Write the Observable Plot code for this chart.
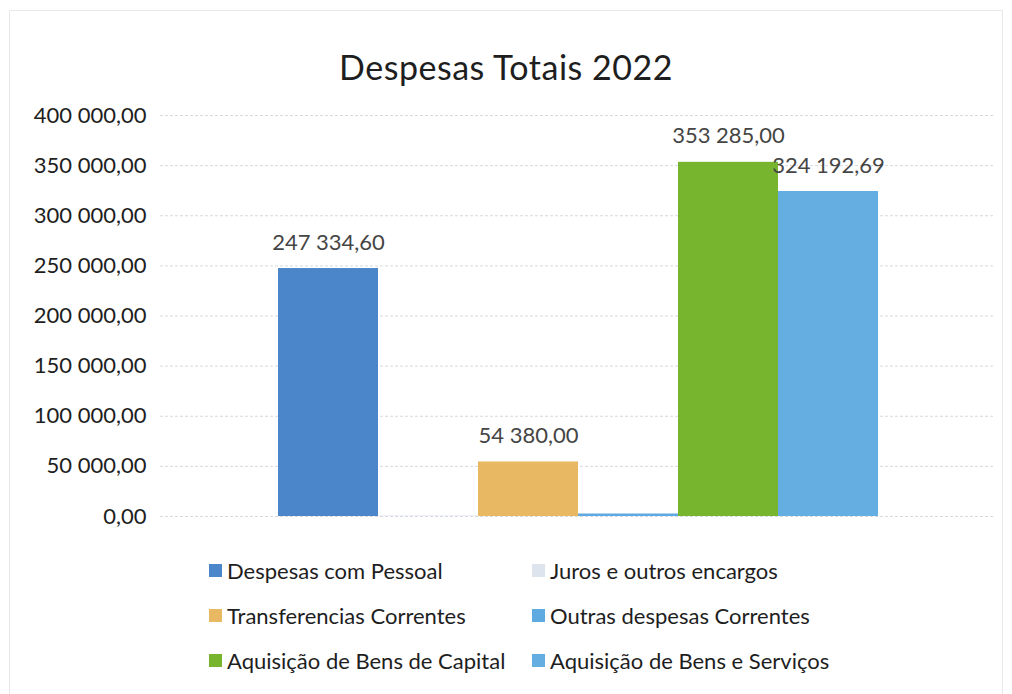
<!DOCTYPE html>
<html>
<head>
<meta charset="utf-8">
<script src="https://cdn.jsdelivr.net/npm/d3@7"></script>
<script src="https://cdn.jsdelivr.net/npm/@observablehq/plot@0.6"></script>
<style>
  html, body { margin: 0; padding: 0; background: #fff; }
  body { width: 1012px; height: 694px; position: relative; overflow: hidden; font-family: Lato, "Open Sans", sans-serif; }
  #frame { position: absolute; left: 9px; top: 10px; width: 994px; height: 690px; border: 1px solid #e6e9ec; box-sizing: border-box; }
  #title { position: absolute; left: 0; top: 46px; width: 1012px; text-align: center; font-size: 34px; color: #1e1e1e; letter-spacing: 0.5px; }
  #chart { position: absolute; left: 0; top: 100px; }
  #legend { position: absolute; left: 209px; top: 556px; display: grid; grid-template-columns: 323px 330px; row-gap: 17px; font-size: 22px; color: #1e1e1e; }
  .item { display: flex; align-items: center; height: 28px; white-space: nowrap; }
  .sw { width: 13px; height: 13px; margin-right: 5px; flex: none; }
</style>
</head>
<body>
<div id="frame"></div>
<div id="title">Despesas Totais 2022</div>
<div id="chart"></div>
<div id="legend"></div>
<script>
const categories = [
  "Despesas com Pessoal",
  "Juros e outros encargos",
  "Transferencias Correntes",
  "Outras despesas Correntes",
  "Aquisição de Bens de Capital",
  "Aquisição de Bens e Serviços"
];
const values = [247334.60, 500, 54380.00, 2500, 353285.00, 324192.69];
const showLabel = [true, false, true, false, true, true];
const colors = ["#4a86c9", "#dde4ed", "#e8b862", "#5faae0", "#78b52e", "#64aee2"];
const yTicks = [0, 50000, 100000, 150000, 200000, 250000, 300000, 350000, 400000];
const legendOrder = [0, 1, 2, 3, 4, 5];

const data = categories.map((c, i) => ({category: c, value: values[i], label: showLabel[i]}));
const locale = d3.formatLocale({decimal: ",", thousands: " ", grouping: [3], currency: ["", ""]});
const fmt = locale.format(",.2f");

const chart = Plot.plot({
  width: 1012,
  height: 440,
  marginLeft: 160,
  marginRight: 17,
  marginTop: 15,
  marginBottom: 24,
  style: {fontFamily: "Lato, 'Open Sans', sans-serif", fontSize: "22px", color: "#1e1e1e", background: "transparent"},
  x: {domain: categories, paddingInner: 0, paddingOuter: 1.175, axis: null},
  y: {domain: [0, 400000], ticks: yTicks, tickFormat: fmt, label: null},
  color: {domain: categories, range: colors},
  marks: [
    Plot.ruleY(yTicks, {stroke: "#d6d9dd", strokeWidth: 1, strokeDasharray: "3,2"}),
    Plot.axisY({ticks: yTicks, tickFormat: fmt, tickSize: 0, tickPadding: 14, fontSize: 22, fill: "#1e1e1e", label: null}),
    Plot.barY(data, {x: "category", y: "value", fill: "category"}),
    Plot.text(data.filter(d => d.label), {x: "category", y: "value", text: d => fmt(d.value), dy: -26, fill: "#454545", fontSize: 22})
  ]
});
document.getElementById("chart").appendChild(chart);

const legend = document.getElementById("legend");
legendOrder.forEach(i => {
  const item = document.createElement("div");
  item.className = "item";
  const sw = document.createElement("span");
  sw.className = "sw";
  sw.style.background = colors[i];
  const t = document.createElement("span");
  t.textContent = categories[i];
  item.appendChild(sw);
  item.appendChild(t);
  legend.appendChild(item);
});
</script>
</body>
</html>
